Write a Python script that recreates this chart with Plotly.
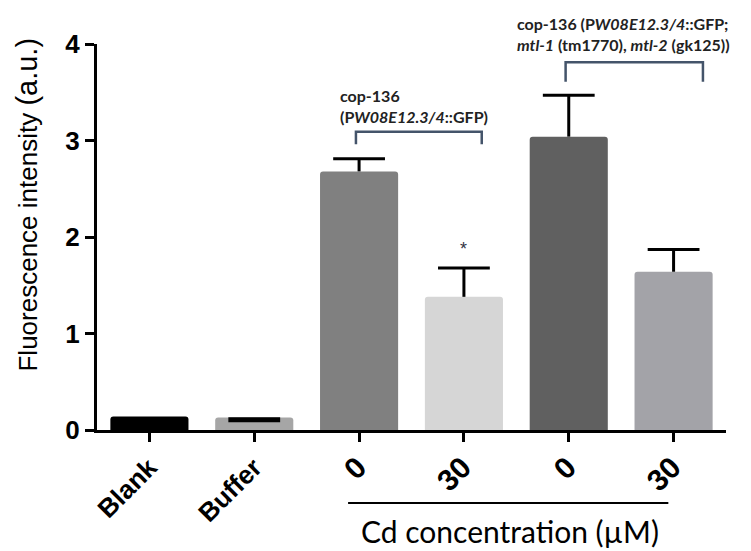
import plotly.graph_objects as go

# ---- data ----
categories = ["Blank", "Buffer", "0", "30", "0", "30"]
values = [0.14, 0.13, 2.68, 1.38, 3.04, 1.64]
err_up = [0.0, 0.0, 0.13, 0.30, 0.43, 0.23]
cap_vals = [None, 0.105, 2.81, 1.68, 3.47, 1.87]
bar_colors = ["#000000", "#a6a6a6", "#808080", "#d6d6d6", "#606060", "#a3a3a8"]
yticks = [0, 1, 2, 3, 4]

xpos = list(range(len(categories)))
ticktext = [
    c if not c.isdigit() else "<span style='font-size:30px'>%s</span>" % c
    for c in categories
]

fig = go.Figure()
fig.add_trace(go.Bar(
    x=xpos, y=values, width=0.745,
    marker=dict(color=bar_colors, line=dict(width=0), cornerradius=3),
    error_y=dict(type="data", symmetric=False, array=err_up,
                 arrayminus=[0] * len(values), color="black",
                 thickness=3, width=0),
    showlegend=False, hoverinfo="skip",
))
fig.add_trace(go.Scatter(
    x=xpos, y=cap_vals, mode="markers",
    marker=dict(symbol="line-ew", size=37, color="black",
                line=dict(color="black", width=[3, 5, 3, 3, 3, 3])),
    showlegend=False, hoverinfo="skip", cliponaxis=False,
))

bracket_col = "#44546a"
fig.add_shape(type="path", xref="x", yref="y",
              path="M 1.97 2.96 L 1.97 3.09 L 3.17 3.09 L 3.17 2.96",
              line=dict(color=bracket_col, width=2.5))
fig.add_shape(type="path", xref="x", yref="y",
              path="M 3.97 3.61 L 3.97 3.81 L 5.28 3.81 L 5.28 3.61",
              line=dict(color=bracket_col, width=2.5))
fig.add_shape(type="line", xref="x", yref="paper",
              x0=1.895, x1=4.95, y0=-0.189, y1=-0.189,
              line=dict(color="black", width=2))

lab_font = dict(family="Lato", size=16, color="#222222")
fig.add_annotation(xref="paper", yref="paper", x=0.383, y=0.839, xanchor="left", yanchor="middle",
                   text="<b>cop-136<br>(P<i>W08E12.3/4</i>::GFP)</b>", align="left",
                   showarrow=False, font=lab_font)
fig.add_annotation(xref="paper", yref="paper", x=0.665, y=1.026, xanchor="left", yanchor="middle",
                   text="<b>cop-136 (P<i>W08E12.3/4</i>::GFP;<br><i>mtl-1</i> (tm1770), <i>mtl-2</i> (gk125))</b>",
                   align="left", showarrow=False, font=lab_font)
fig.add_annotation(xref="x", yref="y", x=3, y=1.88, text="*", showarrow=False,
                   font=dict(family="Liberation Sans", size=18, color="#333344"))
fig.add_annotation(xref="paper", yref="paper", x=0.657, y=-0.262, text="Cd concentration (µM)",
                   showarrow=False, yanchor="middle",
                   font=dict(family="Lato", size=30, color="black"))
fig.add_annotation(xref="paper", yref="paper", x=-0.112, y=0.583, xanchor="center", yanchor="middle",
                   text="Fluorescence intensity <span style='font-size:29px'>(a.u.)</span>",
                   textangle=-90, showarrow=False,
                   font=dict(family="Liberation Sans", size=26, color="black"))

fig.update_layout(
    width=743, height=543,
    margin=dict(l=89, r=25, t=36, b=121),
    plot_bgcolor="white", paper_bgcolor="white",
)
fig.update_xaxes(
    range=[-0.5, 5.5], tickvals=xpos, ticktext=ticktext, tickangle=-45,
    showline=True, linecolor="black", linewidth=3,
    ticks="outside", ticklen=9, tickwidth=3, tickcolor="black",
    tickfont=dict(family="Liberation Sans", size=26, color="black", weight="bold"),
    showgrid=False, zeroline=False,
)
fig.update_yaxes(
    range=[0, 4], tickvals=yticks,
    showline=True, linecolor="black", linewidth=3,
    ticks="outside", ticklen=9, tickwidth=3, tickcolor="black",
    tickfont=dict(family="Liberation Sans", size=26, color="black", weight="bold"),
    showgrid=False, zeroline=False,
)

fig.write_html("out.html")
